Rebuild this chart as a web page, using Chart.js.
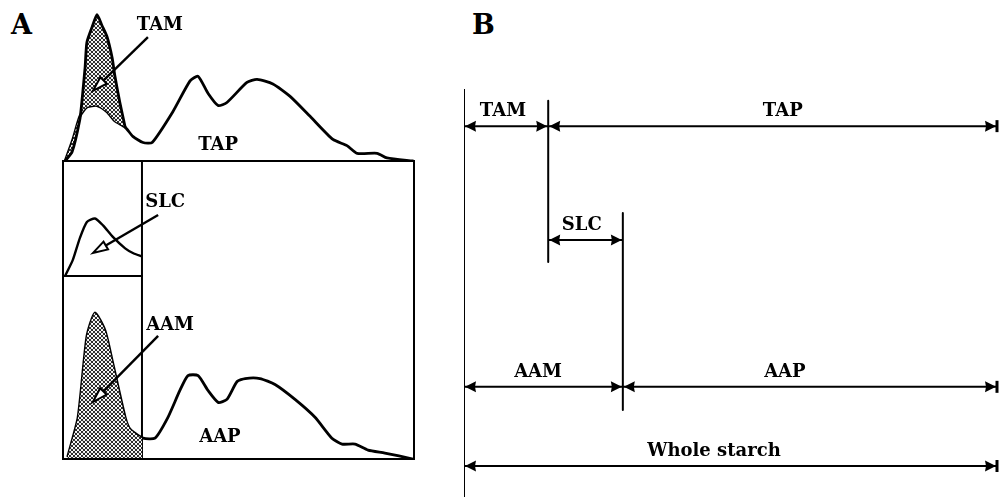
<!DOCTYPE html>
<html>
<head>
<meta charset="utf-8">
<script src="https://cdn.jsdelivr.net/npm/chart.js@4/dist/chart.umd.min.js"></script>
<style>
    body { margin: 0; background: #fff; }
    #page { position: relative; width: 999px; height: 497px; overflow: hidden; background: #fff; }
    #page canvas { position: absolute; }
    .panel { position: absolute; font: bold 27px "DejaVu Serif"; line-height: 1; color: #000; }
</style>
</head>
<body>
<div id="page">
    <div class="panel" style="left:11px;top:11px">A</div>
    <div class="panel" style="left:472px;top:11px">B</div>
    <canvas id="aTop" width="355" height="158" style="left:61px;top:5px"></canvas>
    <canvas id="aBox" width="355" height="302" style="left:61px;top:159px"></canvas>
    <canvas id="aInset" width="83" height="119" style="left:61px;top:159px"></canvas>
    <canvas id="bDims" width="541" height="414" style="left:458px;top:83px"></canvas>
</div>
<script>
// ---- panel A : elution profiles (fraction 0-100, relative absorbance) ----
// top trace: whole profile (TAP line) and total amylose peak (TAM)
const tapX = [0.6, 2.8, 4.8, 6.8, 9.7, 12.5, 14.8, 17.7, 19.9, 22.8, 25.4, 31.3, 36.2, 38.5, 41.3, 44.2, 46.7, 52.4, 55.3, 59.8, 64.7, 70.4, 76.9, 80.9, 83.8, 89.5, 92.3, 99.7];
const tapY = [0, 0.14, 0.29, 0.35, 0.36, 0.32, 0.26, 0.22, 0.16, 0.12, 0.12, 0.32, 0.52, 0.55, 0.44, 0.36, 0.38, 0.51, 0.53, 0.50, 0.42, 0.29, 0.14, 0.10, 0.05, 0.05, 0.02, 0];
const tamX = [0.6, 2.6, 4.8, 5.4, 6.3, 6.8, 8.3, 9.7, 11.1, 12.5, 14.0, 14.8, 16.2, 17.7];
const tamY = [0, 0.06, 0.27, 0.39, 0.61, 0.77, 0.87, 0.95, 0.88, 0.81, 0.67, 0.55, 0.38, 0.22];

// lower trace: apparent amylopectin (AAP line) and apparent amylose (AAM, shaded)
const aapX = [1.4, 4.3, 6.8, 9.1, 12.0, 14.2, 17.7, 19.1, 22.8, 26.2, 29.9, 33.3, 35.6, 38.5, 41.3, 44.2, 46.7, 49.6, 51.9, 56.1, 60.4, 66.1, 71.8, 76.6, 79.5, 83.2, 86.9, 91.7, 99.7];
const aapY = [0.01, 0.14, 0.41, 0.49, 0.43, 0.32, 0.14, 0.10, 0.07, 0.07, 0.14, 0.23, 0.28, 0.28, 0.23, 0.19, 0.20, 0.26, 0.27, 0.27, 0.25, 0.20, 0.14, 0.07, 0.05, 0.05, 0.03, 0.02, 0];
const aamX = [1.4, 4.3, 6.8, 9.1, 12.0, 14.2, 17.7, 19.1, 22.5];
const aamY = [0.01, 0.14, 0.41, 0.49, 0.43, 0.32, 0.14, 0.10, 0.07];

// inset: short linear chains (SLC)
const slcX = [0.6, 2.8, 4.8, 6.8, 9.1, 11.4, 14.2, 17.7, 19.9, 22.5];
const slcY = [0, 0.14, 0.33, 0.47, 0.50, 0.44, 0.34, 0.24, 0.20, 0.17];

const cutFraction = 22.5;

// labels and pointers, in data units [text, x, y] / [fromX, fromY, toX, toY]
const topNotes = [['TAM', 27.6, 0.88], ['TAP', 44.2, 0.10]];
const topArrows = [[24.2, 0.805, 8.5, 0.455]];
const boxNotes = [['SLC', 29.1, 0.862], ['AAM', 30.5, 0.45], ['AAP', 44.7, 0.074]];
const boxArrows = [[27.1, 0.819, 8.5, 0.691], [27.1, 0.413, 8.5, 0.191]];

// ---- panel B : fraction ranges (x 0-100 along elution, y 0-100 down the page) ----
const bNames  = ['TAM', 'TAP', 'SLC', 'AAM', 'AAP', 'Whole starch'];
const bFrom   = [0, 15.8, 15.8, 0, 29.8, 0];
const bTo     = [15.8, 100, 29.8, 29.8, 100, 100];
const bLevel  = [9.1, 9.1, 37.0, 73.0, 73.0, 92.4];
const bNameX  = [7.3, 59.8, 22.1, 13.9, 60.2, 46.9];
const bCutX   = [0, 15.8, 29.8];
const bCutTop = [0, 2.9, 30.4];
const bCutBottom = [100, 42.4, 78.7];

const FONT = 'bold 18px "DejaVu Serif"';

function dotPattern() {
    const c = document.createElement('canvas');
    c.width = 4; c.height = 4;
    const g = c.getContext('2d');
    g.fillStyle = '#fff';
    g.fillRect(0, 0, 4, 4);
    g.fillStyle = '#222';
    [[1, 1], [3, 3]].forEach(p => { g.beginPath(); g.arc(p[0], p[1], 1.15, 0, Math.PI * 2); g.fill(); });
    return g.createPattern(c, 'repeat');
}
const dots = dotPattern();

function pts(xs, ys) {
    return xs.map((x, i) => ({ x: x, y: ys[i] }));
}

function trace(xs, ys, extra) {
    return Object.assign({
        data: pts(xs, ys),
        borderColor: '#000',
        borderWidth: 2.8,
        pointRadius: 0,
        tension: 0.2,
        fill: false,
        borderJoinStyle: 'round',
        borderCapStyle: 'round'
    }, extra || {});
}

function baseOptions(xMin, xMax, yMin, yMax, pad, reverseY) {
    return {
        responsive: false,
        animation: false,
        devicePixelRatio: 1,
        events: [],
        layout: { padding: pad },
        plugins: { legend: { display: false }, tooltip: { enabled: false } },
        scales: {
            x: { type: 'linear', min: xMin, max: xMax, display: false },
            y: { type: 'linear', min: yMin, max: yMax, display: false, reverse: !!reverseY }
        }
    };
}

// frame around (parts of) the chart area
const frame = {
    id: 'frame',
    afterDatasetsDraw(chart, args, opts) {
        const sides = opts.sides || [];
        if (!sides.length) return;
        const a = chart.chartArea, ctx = chart.ctx;
        ctx.save();
        ctx.strokeStyle = '#000';
        ctx.lineWidth = 2;
        ctx.beginPath();
        if (sides.includes('top')) { ctx.moveTo(a.left - 1, a.top); ctx.lineTo(a.right + 1, a.top); }
        if (sides.includes('bottom')) { ctx.moveTo(a.left - 1, a.bottom); ctx.lineTo(a.right + 1, a.bottom); }
        if (sides.includes('left')) { ctx.moveTo(a.left, a.top); ctx.lineTo(a.left, a.bottom); }
        if (sides.includes('right')) { ctx.moveTo(a.right, a.top); ctx.lineTo(a.right, a.bottom); }
        ctx.stroke();
        ctx.restore();
    }
};

// text labels and open-headed pointers in data units
const notes = {
    id: 'notes',
    afterDatasetsDraw(chart, args, opts) {
        const ctx = chart.ctx, sx = chart.scales.x, sy = chart.scales.y;
        ctx.save();
        (opts.arrows || []).forEach(a => {
            const x1 = sx.getPixelForValue(a[0]), y1 = sy.getPixelForValue(a[1]);
            const x2 = sx.getPixelForValue(a[2]), y2 = sy.getPixelForValue(a[3]);
            const len = Math.hypot(x2 - x1, y2 - y1);
            const ux = (x2 - x1) / len, uy = (y2 - y1) / len;
            const bx = x2 - ux * 15, by = y2 - uy * 15;
            ctx.strokeStyle = '#000';
            ctx.lineWidth = 2.4;
            ctx.beginPath(); ctx.moveTo(x1, y1); ctx.lineTo(bx, by); ctx.stroke();
            ctx.beginPath();
            ctx.moveTo(x2, y2);
            ctx.lineTo(bx - uy * 4.5, by + ux * 4.5);
            ctx.lineTo(bx + uy * 4.5, by - ux * 4.5);
            ctx.closePath();
            ctx.fillStyle = '#fff';
            ctx.fill();
            ctx.lineWidth = 2;
            ctx.stroke();
        });
        ctx.font = FONT;
        ctx.fillStyle = '#000';
        ctx.textAlign = 'center';
        ctx.textBaseline = 'middle';
        (opts.texts || []).forEach(t => ctx.fillText(t[0], sx.getPixelForValue(t[1]), sy.getPixelForValue(t[2])));
        ctx.restore();
    }
};

// arrowheads, end bars and names for the range lines of panel B
const ranges = {
    id: 'ranges',
    afterDatasetsDraw(chart) {
        const ctx = chart.ctx, sx = chart.scales.x, sy = chart.scales.y;
        const head = (x, y, dir) => {
            ctx.beginPath();
            ctx.moveTo(x, y);
            ctx.lineTo(x - dir * 11, y - 5.5);
            ctx.lineTo(x - dir * 10, y);
            ctx.lineTo(x - dir * 11, y + 5.5);
            ctx.closePath();
            ctx.fill();
        };
        ctx.save();
        ctx.fillStyle = '#000';
        ctx.strokeStyle = '#000';
        bNames.forEach((name, i) => {
            const x1 = sx.getPixelForValue(bFrom[i]), x2 = sx.getPixelForValue(bTo[i]);
            const y = sy.getPixelForValue(bLevel[i]);
            head(x1 + 1, y, -1);
            head(x2 - 1, y, 1);
            if (bTo[i] === sx.max) {
                ctx.lineWidth = 3;
                ctx.beginPath(); ctx.moveTo(x2, y - 6); ctx.lineTo(x2, y + 6); ctx.stroke();
            }
            ctx.font = FONT;
            ctx.textAlign = 'center';
            ctx.textBaseline = 'middle';
            ctx.fillText(name, sx.getPixelForValue(bNameX[i]), y - 15);
        });
        ctx.restore();
    }
};

Chart.register(frame, notes, ranges);

// A, top: whole starch profile with the amylose peak
const topOpts = baseOptions(0, 100, 0, 1, { left: 2, right: 2, top: 2, bottom: 2 });
topOpts.plugins.notes = { texts: topNotes, arrows: topArrows };
new Chart(document.getElementById('aTop'), {
    type: 'line',
    data: {
        datasets: [
            trace(tamX, tamY, { fill: 1, backgroundColor: dots }),
            trace(tapX, tapY)
        ]
    },
    options: topOpts
});

// A, lower box: debranched profile, AAM shaded up to the cut
const boxOpts = baseOptions(0, 100, 0, 1, { left: 2, right: 2, top: 2, bottom: 2 });
boxOpts.plugins.notes = { texts: boxNotes, arrows: boxArrows };
boxOpts.plugins.frame = { sides: ['top', 'bottom', 'left', 'right'] };
new Chart(document.getElementById('aBox'), {
    type: 'line',
    data: {
        datasets: [
            trace(aamX, aamY, { fill: 'origin', backgroundColor: dots, borderWidth: 0 }),
            trace(aapX, aapY),
            trace([cutFraction, cutFraction], [0, 1], { borderWidth: 2, tension: 0, borderCapStyle: 'butt' })
        ]
    },
    options: boxOpts
});

// A, inset: short linear chains
const insetOpts = baseOptions(0, cutFraction, 0, 1, { left: 2, right: 2, top: 2, bottom: 2 });
insetOpts.plugins.frame = { sides: ['bottom'] };
new Chart(document.getElementById('aInset'), {
    type: 'line',
    data: { datasets: [trace(slcX, slcY, { borderWidth: 2.4 })] },
    options: insetOpts
});

// B: ranges of each fraction
const bSets = [];
bCutX.forEach((x, i) => bSets.push(trace([x, x], [bCutTop[i], bCutBottom[i]], { borderWidth: 2, tension: 0, borderCapStyle: 'butt' })));
bNames.forEach((n, i) => bSets.push(trace([bFrom[i], bTo[i]], [bLevel[i], bLevel[i]], { borderWidth: 2, tension: 0, borderCapStyle: 'butt' })));
new Chart(document.getElementById('bDims'), {
    type: 'line',
    data: { datasets: bSets },
    options: baseOptions(0, 100, 0, 100, { left: 6, right: 2, top: 6, bottom: 0 }, true)
});
</script>
</body>
</html>
